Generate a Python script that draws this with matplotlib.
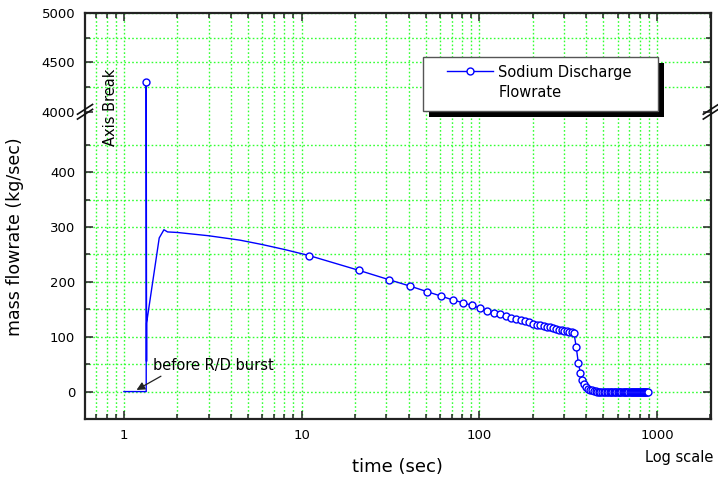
import numpy as np
import matplotlib.pyplot as plt
from matplotlib.patches import Rectangle
from matplotlib.lines import Line2D

plt.rcParams['font.family'] = 'DejaVu Sans'

# time (sec) / flowrate (kg/sec)
# early part: zero flow, burst spike, recovery (no markers except spike)
t_start = [1.0, 1.335, 1.335, 1.341, 1.342, 1.58, 1.68, 1.76, 2.0, 3.0, 4.5, 6.0, 8.0]
q_start = [0, 0, 4300, 55, 125, 280, 295, 291, 290, 284, 276, 268, 259]

# sampled every 10 s, drawn with markers
t_sampled = [11, 21, 31, 41, 51, 61, 71, 81, 91, 101,
             111, 121, 131, 141, 151, 161, 171, 181, 191, 201,
             211, 221, 231, 241, 251, 261, 271, 281, 291, 301,
             311, 321, 331, 341, 351, 361, 371, 381, 391, 401,
             411, 421, 431, 441, 451, 461, 471, 481, 491, 501,
             511, 521, 531, 541, 551, 561, 571, 581, 591, 601,
             611, 621, 631, 641, 651, 661, 671, 681, 691, 701,
             711, 721, 731, 741, 751, 761, 771, 781, 791, 801,
             811, 821, 831, 841, 851, 861, 871, 881, 891]
q_sampled = [248, 221, 204, 192, 182, 174, 167, 162, 157, 152,
             147, 144, 141, 138, 135, 133, 130, 128, 126, 124,
             122, 121, 119, 118, 117, 116, 114, 113, 112, 111,
             110, 109, 108, 107, 82, 52, 34, 22, 14, 9,
             5, 3, 2, 1, 0.5, 0, 0, 0, 0, 0,
             0, 0, 0, 0, 0, 0, 0, 0, 0, 0,
             0, 0, 0, 0, 0, 0, 0, 0, 0, 0,
             0, 0, 0, 0, 0, 0, 0, 0, 0, 0,
             0, 0, 0, 0, 0, 0, 0, 0, 0]

y_major = [0, 100, 200, 300, 400, 4000, 4500, 5000]
y_minor = [-50, 50, 150, 250, 350, 450, 4250, 4750]
x_major = [1, 10, 100, 1000]

# broken y axis: 4000..5000 squeezed on top of -50..510
BREAK_LO, BREAK_HI, SQUEEZE = 510, 4000, 0.18


def fwd(y):
    y = np.asarray(y, dtype=float)
    return np.where(y <= BREAK_LO, y,
                    np.where(y >= BREAK_HI, BREAK_LO + (y - BREAK_HI) * SQUEEZE, BREAK_LO))


def inv(y):
    y = np.asarray(y, dtype=float)
    return np.where(y <= BREAK_LO, y, BREAK_HI + (y - BREAK_LO) / SQUEEZE)


fig = plt.figure(figsize=(7.18, 4.87), dpi=100)
ax = fig.add_axes([0.1184, 0.1396, 0.8716, 0.8337])
ax.set_xscale('log')
ax.set_yscale('function', functions=(fwd, inv))

t_all = t_start + t_sampled
q_all = q_start + q_sampled
marks = [2] + list(range(len(t_start), len(t_all)))
ax.plot(t_all, q_all, color='#0000ff', lw=1.0, marker='o', markevery=marks,
        ms=5, mfc='white', mec='#0000ff', mew=1.0, zorder=3)

ax.set_xlim(0.604, 2010)
ax.set_ylim(-50, 5000)
ax.set_xticks(x_major)
ax.set_xticklabels([str(v) for v in x_major])
ax.set_yticks(y_major)
ax.set_yticks(y_minor, minor=True)
ax.set_yticklabels([str(v) for v in y_major])

ax.tick_params(which='both', direction='in', top=True, right=True,
               labelsize=9.5, width=1.1, color='#222222')
ax.tick_params(which='major', length=6, pad=7)
ax.tick_params(which='minor', length=3.5)
for s in ax.spines.values():
    s.set_linewidth(1.6)
    s.set_color('#222222')

ax.grid(which='both', color='#33ff33', ls=(0, (1.2, 1.6)), lw=1.0, zorder=0)
ax.set_axisbelow(True)
fig.canvas.draw()
for tk in ax.yaxis.get_major_ticks():
    if tk.get_loc() == 4000:
        tk.gridline.set_visible(False)

ax.set_xlabel('time (sec)', fontsize=13, labelpad=12)
ax.set_ylabel('mass flowrate (kg/sec)', fontsize=12.5)
ax.yaxis.set_label_coords(-0.097, 0.45)

# axis break marks on both sides
yb = (fwd(BREAK_HI) - fwd(-50)) / (fwd(5000) - fwd(-50))
for xs in (0, 1):
    for off in (-0.006, 0.006):
        ax.plot([xs - 0.012, xs + 0.012], [yb + off - 0.012, yb + off + 0.012],
                transform=ax.transAxes, color='#111111', lw=1.2, clip_on=False, zorder=6)
ax.text(0.040, 0.767, 'Axis Break', rotation=90, ha='center', va='center',
        fontsize=10.5, transform=ax.transAxes)

ax.annotate('before R/D burst', xy=(1.178, 3), xytext=(1.45, 48),
            ha='left', va='center', fontsize=10.5,
            arrowprops=dict(arrowstyle='-|>', color='#222222', lw=0.9,
                            relpos=(0.12, 0.0), shrinkA=1, shrinkB=0,
                            mutation_scale=12))

fig.text(0.993, 0.061, 'Log scale', ha='right', va='center', fontsize=10.5)

# legend with black drop shadow
ax.add_patch(Rectangle((0.5495, 0.7438), 0.375, 0.133, transform=ax.transAxes,
                       facecolor='black', edgecolor='none', zorder=7))
ax.add_patch(Rectangle((0.540, 0.7586), 0.375, 0.133, transform=ax.transAxes,
                       facecolor='white', edgecolor='#555555', lw=1.0, zorder=8))
handles = [Line2D([], [], color='#0000ff', lw=1.0, marker='o', ms=5,
                  mfc='white', mec='#0000ff', mew=1.0),
           Line2D([], [], ls='none', marker='none')]
leg = ax.legend(handles, ['Sodium Discharge', 'Flowrate'], loc='upper left',
                bbox_to_anchor=(0.578, 0.873), frameon=False, borderpad=0,
                borderaxespad=0, handlelength=3.2, handletextpad=0.35,
                labelspacing=0.4, fontsize=10.5, numpoints=1)
leg.set_zorder(9)

fig.savefig('out.png', dpi=100)
